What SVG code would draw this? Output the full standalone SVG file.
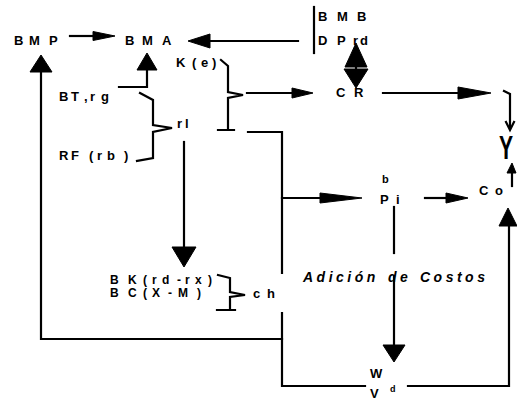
<svg xmlns="http://www.w3.org/2000/svg" width="517" height="401" viewBox="0 0 517 401">
<style>
.t{font-family:"Liberation Sans",Arial,sans-serif;font-weight:bold;font-size:13px;fill:#000}
.s{font-size:11px}
.sm{font-size:12px}
.sup{font-size:9px}
.it{font-style:italic;font-size:14px;letter-spacing:3.5px}
.big{font-size:33px}
.ln{fill:none;stroke:#000;stroke-width:2.2;stroke-linecap:square;stroke-linejoin:miter}
.hd{fill:#000;stroke:#000;stroke-width:1;stroke-linejoin:round}
</style>
<rect width="517" height="401" fill="#fff"/>
<g id="connectors">
  <path class="ln" d="M70,36 H94"/>
  <polygon class="hd" points="115,36 93,31.5 93,40.5"/>
  <path class="ln" d="M298,41 H208"/>
  <polygon class="hd" points="188,41 210,34 210,48"/>
  <path class="ln" d="M314,7 V53"/>
  <path class="ln" d="M282,339 H41 V70"/>
  <polygon class="hd" points="41,55 30,72 52,72"/>
  <path class="ln" d="M119,87 H147 V70"/>
  <polygon class="hd" points="147,53 137,70 157,70"/>
  <path class="ln" d="M140,93 L153,100 V125 L172,128 L153,132 V158 L137,161"/>
  <path class="ln" d="M221,60 L228,66 V92 L243,95 L228,98 V130 M218,130 H234"/>
  <path class="ln" d="M247,93 H294"/>
  <polygon class="hd" points="313,93 292,88 292,98"/>
  <path class="ln" d="M356,60 V80"/>
  <polygon class="hd" points="356,43 345,67 367,67"/>
  <polygon class="hd" points="356,88 344,69 368,69"/>
  <path class="ln" d="M383,93 H460"/>
  <polygon class="hd" points="491,93 458,87 458,99"/>
  <path class="ln" d="M504,91 L510,94 V128"/>
  <path class="ln" d="M506,122 L510,130 L514,122"/>
  <path class="ln" d="M512,186 V172"/>
  <polygon class="hd" points="512,163 507,173 516,173"/>
  <path class="ln" d="M184,142 V248"/>
  <polygon class="hd" points="184,267 172,247 196,247"/>
  <path class="ln" d="M218,275 L230,278 V292 L245,295 L230,297 V310 M217,310 H235"/>
  <path class="ln" d="M248,132 H282 V273"/>
  <path class="ln" d="M282,313 V386 H365"/>
  <path class="ln" d="M408,386 H509 V226"/>
  <polygon class="hd" points="508,208 499,226 517,226"/>
  <path class="ln" d="M282,198 H322"/>
  <polygon class="hd" points="362,198 320,193 320,203"/>
  <path class="ln" d="M425,198 H448"/>
  <polygon class="hd" points="468,198 446,193 446,203"/>
  <path class="ln" d="M394,207 V253"/>
  <path class="ln" d="M394,276 V346"/>
  <polygon class="hd" points="394,362 383,345 405,345"/>
</g>
<g id="node-BMP"><text class="t" x="14 29 49" y="45">BMP</text></g>
<g id="node-BMA"><text class="t" x="125 142 162" y="45">BMA</text></g>
<g id="node-Ke"><text class="t" x="176 192 201 212" y="67">K(e)</text></g>
<g id="node-BTrg"><text class="t" x="59 71 84 90 101" y="101">BT,rg</text></g>
<g id="node-RFrb"><text class="t" x="59 71 89 97 107 124" y="160">RF(rb)</text></g>
<g id="node-rl"><text class="t" x="177 185" y="128">rl</text></g>
<g id="node-BMB"><text class="t" x="318 337 357" y="21">BMB</text></g>
<g id="node-DPrd"><text class="t" x="318 337 353 360" y="45">DPrd</text></g>
<g id="node-CR"><text class="t" x="336 354" y="97">CR</text></g>
<g id="node-Y"><text class="t big" transform="translate(499,159) scale(0.64,1)">Y</text></g>
<g id="node-Pi"><text class="t s" x="382" y="183">b</text><text class="t" x="380 396" y="204">Pi</text></g>
<g id="node-Co"><text class="t" x="479 495" y="195">Co</text></g>
<g id="node-BKBC">
  <text class="t sm" x="110 128 143 152 162 177 185 195 208" y="284">BK(rd-rx)</text>
  <text class="t sm" x="110 128 143 152 168 178 197" y="297">BC(X-M)</text>
</g>
<g id="node-ch"><text class="t" x="253 267" y="298">ch</text></g>
<g id="label-adicion"><text class="t it"><tspan x="303" y="282">Adición </tspan><tspan x="388" y="282">de </tspan><tspan x="420" y="282">Costos</tspan></text></g>
<g id="node-W"><text class="t" x="370" y="378">W</text></g>
<g id="node-Vd"><text class="t" x="370" y="398">V</text><text class="t sup" x="390" y="392">d</text></g>
</svg>
